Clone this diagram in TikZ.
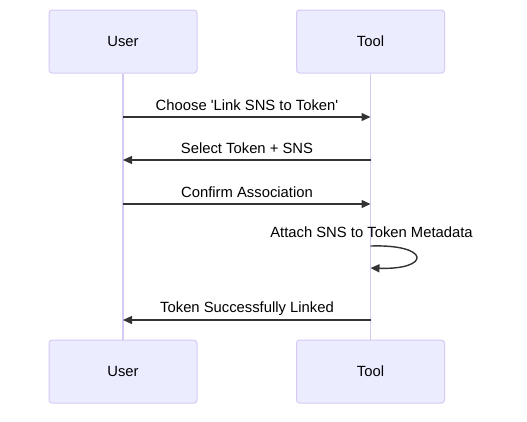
\documentclass[tikz,border=0pt]{standalone}
\usepackage{fontspec}
\setmainfont{Liberation Sans}
\usepackage{tikz}
\usetikzlibrary{positioning,arrows.meta}
\definecolor{actorfill}{RGB}{236,236,255}
\definecolor{actorline}{RGB}{214,202,243}
\definecolor{msgdark}{RGB}{51,51,51}

\begin{document}
\begin{tikzpicture}[x=1pt, y=-1pt, every node/.style={font=\fontsize{14.8}{17}\selectfont, text=black}]
      \tikzstyle{actorbox}=[draw=actorline, fill=actorfill, rounded corners=3pt, line width=1pt, minimum width=148pt, minimum height=63pt]
      \tikzstyle{lifeline}=[draw=actorline, line width=1.6pt]
      \tikzstyle{msg}=[-{Triangle[length=9pt,width=8pt]}, line width=1.4pt, draw=msgdark]
      \tikzstyle{msglabel}=[anchor=base, inner sep=0pt]
      \useasboundingbox (0,0) rectangle (527,421);
      % participants
      \node[actorbox] (userTop) at (123,41.5) {User};
      \node[actorbox] (toolTop) at (370.5,41.5) {Tool};
      \node[actorbox] (userBot) at (123,371.5) {User};
      \node[actorbox] (toolBot) at (370.5,371.5) {Tool};
      \draw[lifeline] (userTop) -- (userBot);
      \draw[lifeline] (toolTop) -- (toolBot);
      % message ends on the lifelines
      \coordinate (u1) at (123,117);
      \coordinate (t1) at (370.5,117);
      \coordinate (u2) at (123,160);
      \coordinate (t2) at (370.5,160);
      \coordinate (u3) at (123,204);
      \coordinate (t3) at (370.5,204);
      \coordinate (t4a) at (370.5,246);
      \coordinate (t4b) at (370.5,268);
      \coordinate (u5) at (123,320);
      \coordinate (t5) at (370.5,320);
      % messages
      \node[msglabel] (m1) at (247,110) {Choose \textquotesingle Link SNS to Token\textquotesingle};
      \draw[msg] (u1) -- (t1);
      \node[msglabel] (m2) at (247,153) {Select Token + SNS};
      \draw[msg] (t2) -- (u2);
      \node[msglabel] (m3) at (247,197) {Confirm Association};
      \draw[msg] (u3) -- (t3);
      \node[msglabel] (m4) at (371.5,237) {Attach SNS to Token Metadata};
      \draw[msg] (t4a) .. controls (431,244) and (431,270) .. (t4b);
      \node[msglabel] (m5) at (247,312) {Token Successfully Linked};
      \draw[msg] (t5) -- (u5);
    \end{tikzpicture}
\end{document}
